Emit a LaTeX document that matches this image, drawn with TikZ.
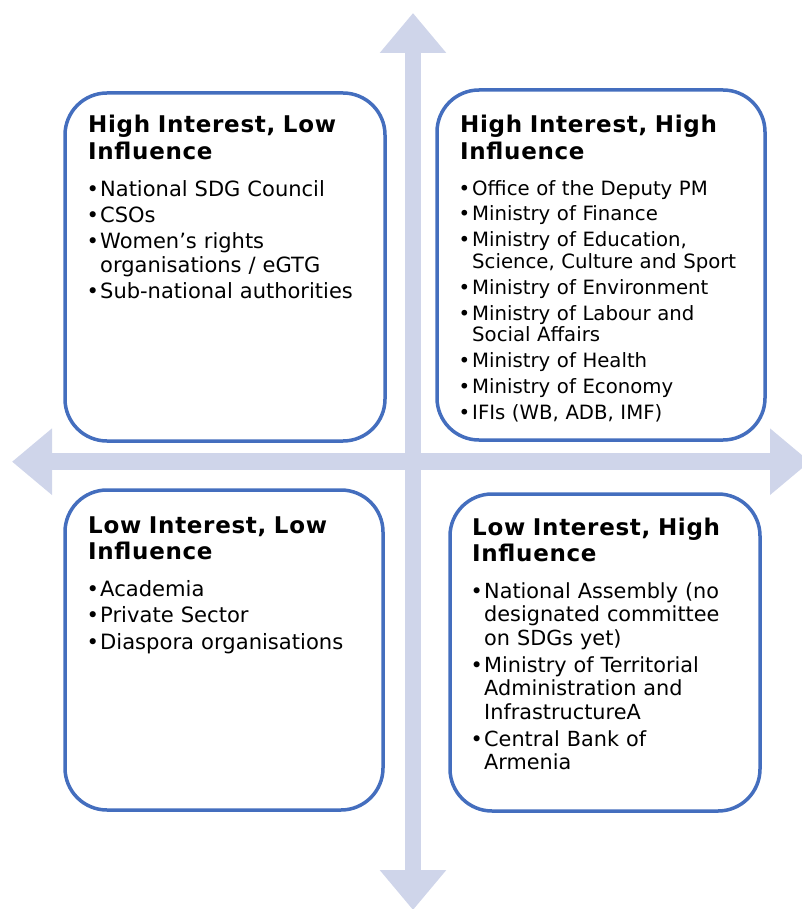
\documentclass[tikz,border=0pt]{standalone}
\usepackage{fontspec}
\setmainfont{DejaVu Sans}
\newfontfamily\headfont[LetterSpace=3]{DejaVu Sans}
\usetikzlibrary{arrows.meta,positioning}

\definecolor{axisfill}{RGB}{207,213,234}
\definecolor{quadline}{RGB}{68,110,190}

\newlength{\bulw}
\setlength{\bulw}{12pt}
\newlength{\itmgap}
% one bullet point with hanging indent
\newcommand{\itm}[1]{\hangindent=\bulw\hangafter=1\makebox[\bulw][l]{\kern-1.5pt\textbullet}#1\par}

\begin{document}
\begin{tikzpicture}[x=1pt,y=-1pt,node distance=20pt,
  quad/.style={draw=quadline,line width=3.5pt,rounded corners=42pt,fill=white},
  head/.style={anchor=base west,inner sep=0pt,text width=300pt,align=left,
    font=\fontsize{23}{26.5}\headfont\bfseries},
  items/.style={inner sep=0pt,text width=300pt,align=left,
    font=\fontsize{21}{24}\selectfont\setlength{\itmgap}{2pt},
    execute at begin node={\setlength{\parskip}{\itmgap}}},
  axis/.style={draw=axisfill,line width=16.5pt,
    {Triangle[length=40pt,width=64pt]}-{Triangle[length=40pt,width=64pt]}}]
\useasboundingbox (0,0) rectangle (802,909);

% axes
\coordinate (west) at (12,461.7);
\coordinate (east) at (810,461.7);
\coordinate (north) at (413,13);
\coordinate (south) at (413,910);
\draw[axis] (west) -- (east);
\draw[axis] (north) -- (south);

% quadrants
\node[quad,minimum width=320pt,minimum height=348pt] (hilo) at (225,267) {};
\node[quad,minimum width=328pt,minimum height=350pt] (hihi) at (601,265) {};
\node[quad,minimum width=318pt,minimum height=320pt] (lolo) at (224,650) {};
\node[quad,minimum width=310pt,minimum height=317pt] (lohi) at (605,652.5) {};

\node[head] (hilo-t) at ([shift={(24.75pt,-41.75pt)}]hilo.north west) {High Interest, Low\\Influence};
\node[items,below=of hilo-t] (hilo-l) {\itm{National SDG Council}
\itm{CSOs}
\itm{Women’s rights\newline organisations / eGTG}
\itm{Sub-national authorities}};

\node[head] (hihi-t) at ([shift={(24.75pt,-44.75pt)}]hihi.north west) {High Interest, High\\Influence};
\node[items,below=of hihi-t,font=\fontsize{19.7}{21.7}\selectfont\setlength{\itmgap}{4.1pt}] (hihi-l) {\itm{Office of the Deputy PM}
\itm{Ministry of Finance}
\itm{Ministry of Education,\newline Science, Culture and Sport}
\itm{Ministry of Environment}
\itm{Ministry of Labour and\newline Social Affairs}
\itm{Ministry of Health}
\itm{Ministry of Economy}
\itm{IFIs (WB, ADB, IMF)}};

\node[head] (lolo-t) at ([shift={(24.75pt,-44.75pt)}]lolo.north west) {Low Interest, Low\\Influence};
\node[items,below=of lolo-t,font=\fontsize{21.1}{24}\selectfont\setlength{\itmgap}{2.7pt}] (lolo-l) {\itm{Academia}
\itm{Private Sector}
\itm{Diaspora organisations}};

\node[head] (lohi-t) at ([shift={(23.75pt,-42.75pt)}]lohi.north west) {Low Interest, High\\Influence};
\node[items,below=of lohi-t,font=\fontsize{20.8}{23.5}\selectfont\setlength{\itmgap}{3.5pt}] (lohi-l) {\itm{National Assembly (no\newline designated committee\newline on SDGs yet)}
\itm{Ministry of Territorial\newline Administration and\newline InfrastructureA}
\itm{Central Bank of\newline Armenia}};
\end{tikzpicture}
\end{document}
